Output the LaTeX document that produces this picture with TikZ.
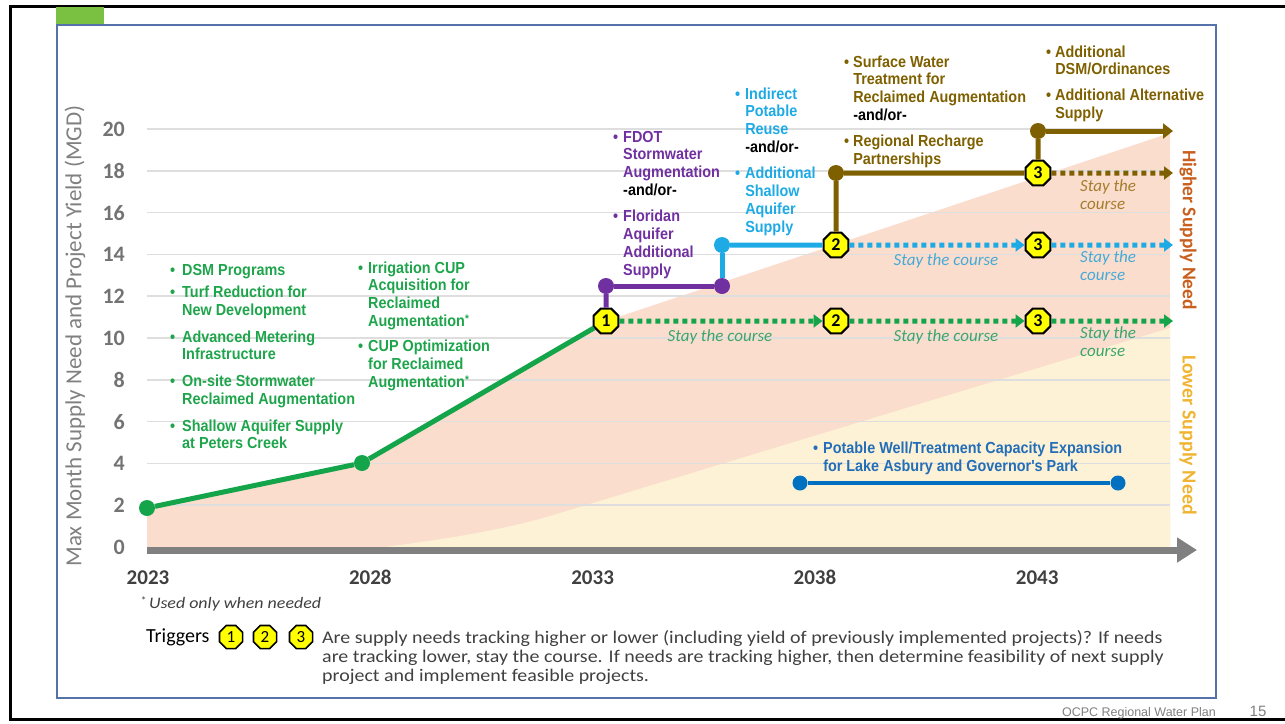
\documentclass[tikz,border=0pt]{standalone}
\usepackage{fontspec}
\setmainfont{Carlito}
\newfontfamily\nar{Liberation Sans}[FakeStretch=0.9]
\newfontfamily\ftf{Liberation Sans}
\newfontfamily\wide{Carlito}[FakeStretch=1.12]
\usetikzlibrary{shapes.geometric,arrows.meta}
\definecolor{gtx}{RGB}{30,165,75}
\definecolor{gln}{RGB}{20,165,75}
\definecolor{gst}{RGB}{60,165,110}
\definecolor{pur}{RGB}{112,48,160}
\definecolor{lbl}{RGB}{30,170,228}
\definecolor{bst}{RGB}{70,170,215}
\definecolor{brn}{RGB}{127,96,0}
\definecolor{brst}{RGB}{165,125,45}
\definecolor{wbl}{RGB}{0,112,192}
\definecolor{wtx}{RGB}{35,110,185}
\definecolor{hiC}{RGB}{200,95,30}
\definecolor{loC}{RGB}{240,180,50}
\definecolor{peach}{RGB}{250,221,205}
\definecolor{yel}{RGB}{253,242,213}
\definecolor{grd}{RGB}{222,222,222}
\definecolor{axg}{RGB}{128,128,128}
\definecolor{tkg}{RGB}{115,115,115}
\definecolor{yrg}{RGB}{64,64,64}
\definecolor{pnl}{RGB}{85,115,170}
\definecolor{tabg}{RGB}{122,193,66}
\definecolor{ptx}{RGB}{64,64,64}
\definecolor{octy}{RGB}{255,255,0}
\newcommand\astx{\raisebox{4pt}{\fontsize{11}{11}\selectfont *}}
\begin{document}
\begin{tikzpicture}[x=1pt,y=-1pt,
 blk/.style={anchor=north west,inner sep=0pt,font=\nar\bfseries\fontsize{16}{17.7}\selectfont},
 oct/.style={regular polygon,regular polygon sides=8,minimum size=27pt,inner sep=0pt,fill=octy,draw=black,line width=2pt,font=\bfseries\fontsize{18}{18}\selectfont},
 loct/.style={oct,minimum size=25pt,line width=1.6pt,font=\fontsize{17}{17}\selectfont},
 bub/.style={circle,fill=#1,inner sep=0pt,minimum size=16pt},
 ln/.style={line width=5pt,draw=#1},
 dln/.style={line width=5pt,draw=#1,dash pattern=on 5pt off 4pt,-{Triangle[length=9pt,width=13pt]}},
 st/.style={font=\itshape\fontsize{17}{18}\selectfont,inner sep=0pt},
 gridln/.style={draw=grd,line width=1.5pt},
]
\useasboundingbox (0,0) rectangle (1285,723);
% outer frame
\draw[line width=3pt] (1285,6) -- (10,6) -- (10,719) -- (1285,719);
% panel
\draw[pnl,line width=1.5pt] (57,25) rectangle (1216,698);
\fill[tabg] (56,7) rectangle (104,24);
% shaded regions
\fill[peach] (147,550) -- (147,508) -- (362,463) -- (606,321) -- (1170,133) -- (1170,550) -- cycle;
\fill[yel] (360,550) .. controls (460,538) and (515,527) .. (560,513) -- (1170,328) -- (1170,550) -- cycle;
% grid and ticks
\foreach \v in {2,4,...,20}{\draw[gridln] (147,{547-20.9*\v}) -- (1170,{547-20.9*\v});}
\foreach \v in {0,2,...,20}{\node[anchor=east,inner sep=0pt,text=tkg,font=\bfseries\fontsize{22}{22}\selectfont] (tk\v) at (125,{547-20.9*\v}) {\v};}
\draw[line width=7pt,draw=axg,-{Triangle[length=20pt,width=24pt]}] (147,550) -- (1197,550);
\node[rotate=90,text=axg,font=\fontsize{23}{23}\selectfont] (ytitle) at (75,336) {Max Month Supply Need and Project Yield (MGD)};
\foreach \y/\n in {2023/0,2028/1,2033/2,2038/3,2043/4}{\node[anchor=base,inner sep=0pt,text=yrg,font=\bfseries\fontsize{21}{21}\selectfont] (yr\n) at ({148+222.3*\n},584) {\y};}
% text blocks
\node[blk,text=gtx] (tA) at (170,262.6) {\begin{tabular}{@{}l@{\hspace{7pt}}l@{}}
\textbullet & DSM Programs\\[5pt]
\textbullet & Turf Reduction for\\ & New Development\\[9pt]
\textbullet & Advanced Metering\\ & Infrastructure\\[9pt]
\textbullet & On-site Stormwater\\ & Reclaimed Augmentation\\[9pt]
\textbullet & Shallow Aquifer Supply\\ & at Peters Creek
\end{tabular}};
\node[blk,text=gtx] (tB) at (358,260.6) {\begin{tabular}{@{}l@{\hspace{5pt}}l@{}}
\textbullet & Irrigation CUP\\ & Acquisition for\\ & Reclaimed\\ & Augmentation\astx\\[8pt]
\textbullet & CUP Optimization\\ & for Reclaimed\\ & Augmentation\astx
\end{tabular}};
\node[blk,text=pur] (tC) at (613,129.6) {\begin{tabular}{@{}l@{\hspace{5pt}}l@{}}
\textbullet & FDOT\\ & Stormwater\\ & Augmentation\\ & \textcolor{black}{-and/or-}\\[9pt]
\textbullet & Floridan\\ & Aquifer\\ & Additional\\ & Supply
\end{tabular}};
\node[blk,text=lbl] (tD) at (735,86.6) {\begin{tabular}{@{}l@{\hspace{5pt}}l@{}}
\textbullet & Indirect\\ & Potable\\ & Reuse\\ & \textcolor{black}{-and/or-}\\[9pt]
\textbullet & Additional\\ & Shallow\\ & Aquifer\\ & Supply
\end{tabular}};
\node[blk,text=brn] (tE) at (844,54.6) {\begin{tabular}{@{}l@{\hspace{4pt}}l@{}}
\textbullet & Surface Water\\ & Treatment for\\ & Reclaimed Augmentation\\ & \textcolor{black}{-and/or-}\\[9pt]
\textbullet & Regional Recharge\\ & Partnerships
\end{tabular}};
\node[blk,text=brn] (tF) at (1046,44.6) {\begin{tabular}{@{}l@{\hspace{4pt}}l@{}}
\textbullet & Additional\\ & DSM/Ordinances\\[8pt]
\textbullet & Additional Alternative\\ & Supply
\end{tabular}};
\node[blk,text=wtx] (tG) at (813,440.6) {\begin{tabular}{@{}l@{\hspace{5pt}}l@{}}
\textbullet & Potable Well/Treatment Capacity Expansion\\[1pt] & for Lake Asbury and Governor's Park
\end{tabular}};
% right labels
\node[rotate=-90,text=hiC,font=\bfseries\fontsize{19.5}{19.5}\selectfont] (hsn) at (1188,230) {Higher Supply Need};
\node[rotate=-90,text=loC,font=\bfseries\fontsize{20}{20}\selectfont] (lsn) at (1188,435) {Lower Supply Need};
% nodes
\node[bub=gln] (g1) at (147,508) {};
\node[bub=gln] (g2) at (362,463) {};
\node[oct] (o1) at (606,321) {1};
\node[bub=pur] (p1) at (606,286) {};
\node[bub=pur] (p2) at (722,286) {};
\node[bub=lbl] (b1) at (722,245) {};
\node[oct] (o2b) at (836,245) {2};
\node[oct] (o2g) at (836,321) {2};
\node[bub=brn] (br1) at (836,173) {};
\node[oct] (o3r) at (1038,173) {3};
\node[oct] (o3b) at (1038,245) {3};
\node[oct] (o3g) at (1038,321) {3};
\node[bub=brn] (br2) at (1038,131) {};
\coordinate (e1) at (1173,321);
\coordinate (e2) at (1173,245);
\coordinate (e3) at (1173,173);
\coordinate (e4) at (1173,131);
\node[bub=wbl,minimum size=15pt] (w1) at (800,483) {};
\node[bub=wbl,minimum size=15pt] (w2) at (1118,483) {};
% connectors
\draw[ln=gln] (g1) -- (g2);
\draw[ln=gln] (g2) -- (o1);
\draw[ln=pur] (o1) -- (p1);
\draw[ln=pur] (p1) -- (p2);
\draw[ln=lbl] (p2) -- (b1);
\draw[ln=lbl] (b1) -- (o2b);
\draw[ln=brn] (o2b) -- (br1);
\draw[ln=brn] (br1) -- (o3r);
\draw[ln=brn] (o3r) -- (br2);
\draw[ln=brn,-{Triangle[length=10pt,width=15pt]}] (br2) -- (e4);
\draw[dln=brn] (o3r) -- (e3);
\draw[dln=gln] (o1) -- (o2g);
\draw[dln=gln] (o2g) -- (o3g);
\draw[dln=gln] (o3g) -- (e1);
\draw[dln=lbl] (o2b) -- (o3b);
\draw[dln=lbl] (o3b) -- (e2);
\draw[line width=4pt,draw=wbl] (w1) -- (w2);
% stay the course
\node[st,text=gst] (s1) at (720,337) {Stay the course};
\node[st,text=gst] (s2) at (946,337) {Stay the course};
\node[st,text=gst,anchor=west,align=left] (s3) at (1080,342) {Stay the\\course};
\node[st,text=bst] (s4) at (946,261) {Stay the course};
\node[st,text=bst,anchor=west,align=left] (s5) at (1080,266) {Stay the\\course};
\node[st,text=brst,anchor=west,align=left] (s6) at (1080,195) {Stay the\\course};
% bottom
\node[anchor=west,inner sep=0pt,text=ptx,font=\wide\itshape\fontsize{16}{16}\selectfont] (fn) at (140,604) {\astx\,Used only when needed};
\node[anchor=west,inner sep=0pt,font=\fontsize{20}{20}\selectfont] (trg) at (146,637) {Triggers};
\node[loct] (l1) at (231,637) {1};
\node[loct] (l2) at (265,637) {2};
\node[loct] (l3) at (301,637) {3};
\node[anchor=north west,inner sep=0pt,text=ptx,font=\wide\fontsize{17.8}{19}\selectfont] (par) at (322,629.7) {\begin{tabular}{@{}l@{}}
Are supply needs tracking higher or lower (including yield of previously implemented projects)? If needs\\
are tracking lower, stay the course. If needs are tracking higher, then determine feasibility of next supply\\
project and implement feasible projects.
\end{tabular}};
\node[anchor=base east,inner sep=0pt,text=axg,font=\ftf\fontsize{12.5}{12.5}\selectfont] (foot) at (1216,716) {OCPC Regional Water Plan};
\node[anchor=base,inner sep=0pt,text=axg,font=\ftf\fontsize{15}{15}\selectfont] (pg) at (1258,716) {15};
\end{tikzpicture}
\end{document}
